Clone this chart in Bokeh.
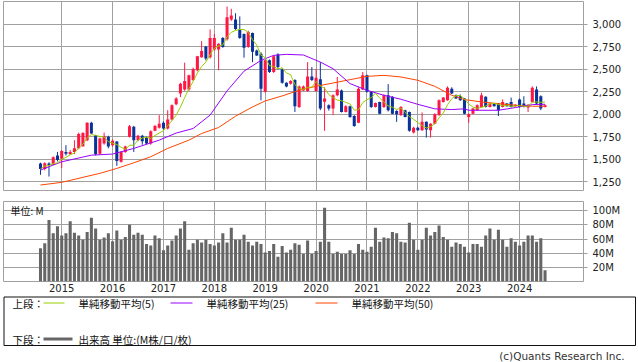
import pandas as pd
from bokeh.plotting import figure
from bokeh.layouts import column, row
from bokeh.models import ColumnDataSource, Range1d, FixedTicker, Grid, NumeralTickFormatter, Label
from bokeh.embed import file_html
from bokeh.resources import INLINE
from bokeh.core.properties import value

# ---------------- data (monthly, Aug 2014 - Jul 2024) ----------------
start_month = "2014-08"

opens = [1450, 1390, 1450, 1440, 1540, 1505, 1580, 1555, 1580, 1620,
         1640, 1710, 1905, 1765, 1560, 1675, 1750, 1655, 1695, 1470,
         1580, 1750, 1860, 1710, 1760, 1740, 1675, 1815, 1850, 1905,
         1840, 1940, 2110, 2230, 2275, 2275, 2380, 2490, 2635, 2755,
         2635, 2720, 2720, 2850, 2835, 3055, 3055, 2940, 2895, 2750,
         2905, 2710, 2675, 2250, 2600, 2470, 2665, 2500, 2350, 2340,
         2380, 2080, 2265, 2260, 2420, 2260, 2390, 2140, 2100, 2065,
         2210, 2265, 2025, 2090, 1980, 1905, 2275, 2435, 2250, 2080,
         2135, 2080, 2210, 2195, 2035, 1990, 2045, 2025, 1795, 1850,
         1820, 1915, 1820, 1895, 1990, 2135, 2155, 2285, 2210, 2200,
         2175, 1970, 2005, 2045, 2080, 2195, 2080, 2120, 2120, 2080,
         2120, 2135, 2090, 2165, 2120, 2075, 2135, 2275, 2200, 2080]
highs = [1460, 1465, 1465, 1530, 1580, 1600, 1655, 1600, 1710, 1795,
         1800, 1910, 1915, 1770, 1740, 1795, 1760, 1720, 1700, 1590,
         1650, 1880, 1870, 1770, 1770, 1750, 1820, 1880, 1990, 1920,
         2045, 2110, 2190, 2350, 2575, 2440, 2520, 2650, 2815, 2760,
         2945, 2895, 2790, 2860, 3200, 3175, 3125, 3090, 2900, 2930,
         2910, 2720, 2690, 2610, 2610, 2660, 2680, 2510, 2355, 2380,
         2390, 2320, 2320, 2580, 2525, 2505, 2580, 2300, 2110, 2220,
         2415, 2275, 2100, 2095, 1990, 2300, 2470, 2440, 2255, 2130,
         2140, 2220, 2335, 2200, 2045, 2090, 2050, 2030, 1860, 1860,
         2020, 1920, 1900, 2010, 2165, 2190, 2310, 2300, 2220, 2220,
         2180, 2010, 2070, 2110, 2240, 2200, 2125, 2125, 2125, 2165,
         2125, 2185, 2110, 2175, 2200, 2110, 2310, 2310, 2210, 2110]
lows = [1325, 1375, 1305, 1435, 1475, 1400, 1540, 1550, 1555, 1610,
        1690, 1700, 1780, 1540, 1550, 1660, 1620, 1640, 1425, 1460,
        1570, 1740, 1580, 1700, 1660, 1665, 1660, 1810, 1840, 1830,
        1830, 1930, 2100, 2190, 2260, 2260, 2370, 2480, 2630, 2600,
        2620, 2710, 2490, 2740, 2820, 3040, 2940, 2840, 2630, 2740,
        2580, 2650, 2155, 2240, 2460, 2460, 2500, 2340, 2300, 2330,
        2025, 2070, 2260, 2250, 2370, 2250, 2045, 1815, 2040, 1990,
        2200, 2020, 2020, 1960, 1860, 1900, 2270, 2240, 2070, 2075,
        2000, 2070, 2030, 2000, 1915, 1980, 1965, 1805, 1785, 1815,
        1815, 1740, 1740, 1890, 1980, 2130, 2150, 2225, 2170, 2150,
        2000, 1905, 2000, 2040, 2075, 2075, 2075, 2085, 1980, 2075,
        2085, 2075, 2085, 2075, 2075, 2025, 2130, 2110, 2045, 2075]
closes = [1390, 1455, 1435, 1520, 1490, 1590, 1560, 1580, 1620, 1780,
          1790, 1905, 1785, 1555, 1730, 1755, 1640, 1705, 1480, 1580,
          1640, 1865, 1710, 1760, 1700, 1675, 1810, 1870, 1895, 1840,
          1940, 2100, 2175, 2340, 2370, 2435, 2505, 2645, 2705, 2620,
          2850, 2850, 2785, 2750, 3080, 3100, 2950, 2850, 2740, 2915,
          2695, 2655, 2285, 2600, 2470, 2645, 2525, 2350, 2310, 2370,
          2090, 2310, 2310, 2420, 2380, 2405, 2065, 2175, 2065, 2210,
          2275, 2025, 2090, 1970, 1870, 2285, 2435, 2250, 2080, 2125,
          2005, 2210, 2045, 2005, 2000, 2080, 1970, 1815, 1850, 1820,
          1915, 1830, 1895, 2000, 2155, 2185, 2295, 2230, 2175, 2155,
          2005, 2000, 2065, 2100, 2210, 2080, 2120, 2090, 2045, 2135,
          2090, 2080, 2105, 2080, 2080, 2105, 2295, 2120, 2065, 2100]
volume_m = [47, 54, 87, 68, 78, 65, 68, 85, 69, 65,
            59, 70, 90, 75, 59, 62, 68, 57, 72, 59,
            63, 80, 66, 69, 66, 53, 51, 65, 61, 44,
            51, 58, 65, 75, 85, 45, 54, 59, 55, 59,
            53, 51, 55, 68, 55, 76, 59, 59, 66, 56,
            51, 56, 53, 41, 43, 53, 35, 50, 41, 45,
            54, 52, 39, 58, 39, 43, 56, 104, 56, 39,
            42, 39, 39, 44, 39, 53, 45, 42, 49, 76,
            56, 62, 61, 70, 68, 56, 55, 83, 59, 45,
            59, 76, 65, 70, 79, 63, 59, 49, 55, 53,
            49, 41, 53, 53, 49, 65, 75, 59, 73, 59,
            49, 61, 56, 51, 56, 65, 65, 56, 61, 16]

# moving averages (month index, value)
ma25_idx = [0, 5, 12, 17, 22, 28, 32, 36, 40, 44, 48, 52, 55, 58, 62,
            66, 69, 73, 77, 81, 85, 89, 93, 97, 100, 101, 108, 112, 116, 119]
ma25_val = [1378, 1470, 1544, 1556, 1619, 1711, 1790, 1841, 1990, 2260,
            2480, 2600, 2656, 2667, 2660, 2581, 2507, 2341, 2267, 2211,
            2167, 2110, 2060, 2052, 2060, 2044, 2044, 2074, 2107, 2111]
ma50_idx = [0, 5, 14, 18, 22, 26, 30, 35, 38, 42, 46, 50, 53, 57, 61,
            65, 69, 73, 77, 81, 85, 89, 93, 97, 100, 104, 108, 112, 116, 119]
ma50_val = [1211, 1241, 1341, 1396, 1459, 1526, 1619, 1711, 1785, 1852,
            1978, 2081, 2148, 2204, 2267, 2311, 2348, 2385, 2422, 2433,
            2415, 2378, 2311, 2211, 2163, 2137, 2118, 2100, 2089, 2089]

price_ticks = [1250, 1500, 1750, 2000, 2250, 2500, 2750, 3000]
vol_ticks = [20, 40, 60, 80, 100]

# ---------------- styling ----------------
UP = "#FF1744"
DOWN = "#0A3399"
MA5C = "#99CC00"
MA25C = "#9900FF"
MA50C = "#FF4500"
VOLC = "#666666"
GRID = "#A0A0A0"
NUMF = "DejaVu Sans"
CJK = "Noto Sans CJK JP"

months = pd.period_range(start_month, periods=len(closes), freq="M")
idx = list(range(len(closes)))
jan_idx = [i for i, m in enumerate(months) if m.month == 1]
year_labels = {i: str(months[i].year) for i in jan_idx}
ma5 = pd.Series(closes).rolling(5, min_periods=1).mean().tolist()

colors = [UP if c >= o else DOWN for o, c in zip(opens, closes)]
src = ColumnDataSource(dict(
    x=idx, h=highs, l=lows,
    top=[max(o, c) for o, c in zip(opens, closes)],
    bottom=[min(o, c) for o, c in zip(opens, closes)],
    color=colors, v=volume_m))

X0, X1 = -8.73, 128.07
BL, BR = 3, 55


def set_xgrid(fig):
    grids = [r for r in fig.center if isinstance(r, Grid) and r.dimension == 0]
    if grids:
        g = grids[0]
    else:
        g = Grid(dimension=0)
        fig.add_layout(g, "center")
    g.ticker = FixedTicker(ticks=jan_idx)
    g.grid_line_color = GRID
    g.grid_line_width = 1


def style_yaxis(fig, ticks):
    ax = fig.yaxis[0]
    ax.ticker = FixedTicker(ticks=ticks)
    ax.axis_line_color = None
    ax.major_tick_line_color = GRID
    ax.major_tick_out = 4
    ax.major_tick_in = 0
    ax.minor_tick_line_color = None
    ax.major_label_text_font = NUMF
    ax.major_label_text_font_size = "10px"
    ax.major_label_text_color = "#222222"
    ax.major_label_standoff = 5
    fig.ygrid.ticker = FixedTicker(ticks=ticks)
    fig.ygrid.grid_line_color = GRID


# ---------------- price chart ----------------
p = figure(width=638, height=196, x_range=Range1d(X0, X1), y_range=Range1d(1150, 3256),
           x_axis_location=None, y_axis_location="right",
           output_backend="svg", toolbar_location=None,
           min_border_left=BL, min_border_right=BR, min_border_top=1, min_border_bottom=6)
p.outline_line_color = GRID
set_xgrid(p)
style_yaxis(p, price_ticks)
p.yaxis.formatter = NumeralTickFormatter(format="0,0")

p.segment(x0="x", y0="h", x1="x", y1="l", line_color="color", line_width=1, source=src)
p.vbar(x="x", width=0.72, top="top", bottom="bottom", fill_color="color",
       line_color=None, source=src)
p.line(ma50_idx, ma50_val, line_color=MA50C, line_width=1)
p.line(ma25_idx, ma25_val, line_color=MA25C, line_width=1)
p.line(idx, ma5, line_color=MA5C, line_width=1)

# ---------------- volume chart ----------------
v = figure(width=638, height=99, x_range=p.x_range, y_range=Range1d(0, 113),
           x_axis_location="below", y_axis_location="right",
           output_backend="svg", toolbar_location=None,
           min_border_left=BL, min_border_right=BR, min_border_top=5, min_border_bottom=14)
v.outline_line_color = GRID
set_xgrid(v)
style_yaxis(v, vol_ticks)
v.yaxis.major_label_overrides = {t: f"{t}M" for t in vol_ticks}
xa = v.xaxis[0]
xa.ticker = FixedTicker(ticks=jan_idx)
xa.major_label_overrides = year_labels
xa.axis_line_color = None
xa.major_tick_line_color = None
xa.minor_tick_line_color = None
xa.major_tick_out = 0
xa.major_label_standoff = 2
xa.major_label_text_font = NUMF
xa.major_label_text_font_size = "10px"
xa.major_label_text_color = "#222222"

v.vbar(x="x", width=0.72, top="v", bottom=0, fill_color=VOLC, line_color=None, source=src)
v.add_layout(Label(x=X0 + 7 / 4.24, y=111.5, text="単位: M", text_font=CJK,
                   text_font_size="10px", text_baseline="top", text_color="#111111"))

# ---------------- legend panel (x in page pixels) ----------------
lg = figure(width=638, height=67, x_range=Range1d(0, 638), y_range=Range1d(67, 0),
            x_axis_location=None, y_axis_location=None,
            output_backend="svg", toolbar_location=None,
            min_border_left=0, min_border_right=0, min_border_top=0, min_border_bottom=0)
lg.outline_line_color = None
lg.xgrid.visible = False
lg.ygrid.visible = False

lg.quad(left=[3.5], right=[635], top=[1.5], bottom=[50], fill_color=None,
        line_color="#111111", line_width=1)
row1, row2 = 7.5, 43.5
lg.segment(x0=[43, 170, 315], y0=[row1] * 3, x1=[64, 192, 337], y1=[row1] * 3,
           line_color=[MA5C, MA25C, MA50C], line_width=1)
lg.segment(x0=[43], y0=[row2], x1=[72], y1=[row2], line_color=VOLC, line_width=3)
lg.text(x=[12, 78, 206, 351, 12, 78], y=[row1, row1, row1, row1, row2, row2],
        text=["上段：", "単純移動平均(5)", "単純移動平均(25)", "単純移動平均(50)",
              "下段：", "出来高 単位:(M株/口/枚)"],
        text_font=value(CJK), text_font_size=value("10.5px"),
        text_baseline="middle", text_align="left", text_color="#111111")
lg.text(x=[624], y=[60], text=["(c)Quants Research Inc."],
        text_font=value(NUMF), text_font_size=value("10.5px"),
        text_baseline="middle", text_align="right", text_color="#333333")

layout = column(column(p, v), row(lg))

open("out.html", "w").write(file_html(layout, INLINE))
